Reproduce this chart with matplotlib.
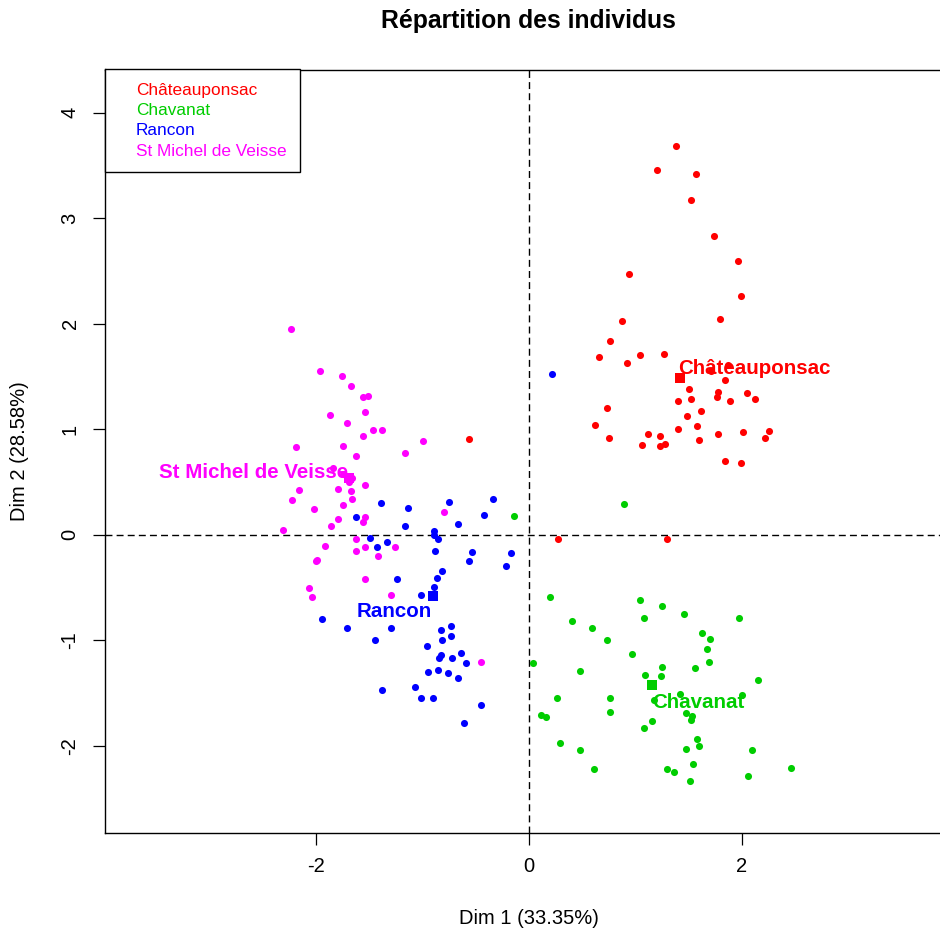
import numpy as np
import matplotlib
matplotlib.use("Agg")
import matplotlib.pyplot as plt
from matplotlib.lines import Line2D

plt.rcParams['font.family'] = ['Liberation Sans', 'DejaVu Sans']
plt.rcParams['axes.unicode_minus'] = False

groups = ["Châteauponsac", "Chavanat", "Rancon", "St Michel de Veisse"]
colors = ["#FF0000", "#00CD00", "#0000FF", "#FF00FF"]

# individuals, Dim 1 / Dim 2
chat_x = [1.386, 1.201, 1.571, 1.521, 1.743, 1.963, 0.944, 1.997, 0.872, 1.800,
          0.759, 0.661, 1.044, 1.273, 0.919, 1.712, 1.875, 1.841, 1.508, 1.778,
          1.766, 2.048, 2.123, 1.399, 1.521, 1.888, 0.737, 1.618, 1.484, 0.618,
          1.399, 1.583, 2.255, 2.013, 1.778, 1.117, 1.230, 0.750, 1.596, 2.217,
          1.066, 1.230, 1.277, 1.841, 1.997, -0.562, 0.273, 1.301]
chat_y = [3.685, 3.452, 3.417, 3.171, 2.827, 2.595, 2.472, 2.264, 2.030, 2.043,
          1.834, 1.685, 1.699, 1.711, 1.626, 1.553, 1.607, 1.467, 1.382, 1.357,
          1.306, 1.344, 1.284, 1.272, 1.284, 1.272, 1.199, 1.173, 1.123, 1.038,
          1.003, 1.026, 0.988, 0.978, 0.953, 0.953, 0.940, 0.915, 0.902, 0.915,
          0.855, 0.839, 0.864, 0.697, 0.684, 0.905, -0.043, -0.043]

chav_x = [-0.144, 0.897, 0.198, 1.044, 1.251, 1.079, 1.458, 1.973, 0.405, 0.590,
          0.737, 1.627, 1.703, 1.677, 0.969, 1.691, 0.038, 0.480, 1.251, 1.091,
          1.239, 1.559, 2.154, 0.261, 0.762, 1.421, 1.179, 2.001, 0.762, 0.110,
          0.163, 1.474, 1.536, 1.521, 1.154, 1.079, 1.580, 1.596, 0.294, 0.477,
          1.474, 2.098, 0.614, 1.301, 1.361, 1.546, 2.462, 2.057, 1.517]
chav_y = [0.182, 0.289, -0.592, -0.618, -0.678, -0.789, -0.754, -0.789, -0.813, -0.886,
          -0.997, -0.934, -0.984, -1.082, -1.133, -1.206, -1.218, -1.291, -1.253, -1.329,
          -1.341, -1.265, -1.376, -1.547, -1.547, -1.512, -1.562, -1.521, -1.682, -1.704,
          -1.730, -1.685, -1.718, -1.755, -1.768, -1.831, -1.938, -2.005, -1.976, -2.036,
          -2.027, -2.036, -2.223, -2.220, -2.248, -2.175, -2.210, -2.282, -2.334]

ranc_x = [0.219, -1.392, -0.755, -0.339, -1.135, -1.627, -0.426, -0.671, -1.164, -0.894,
          -0.894, -0.853, -1.493, -1.433, -1.333, -0.881, -0.536, -0.169, -0.562, -0.219,
          -0.818, -0.868, -1.239, -0.894, -1.013, -1.947, -1.712, -1.295, -1.446, -0.831,
          -0.734, -0.818, -0.734, -0.962, -0.637, -0.831, -0.844, -0.722, -0.595, -0.950,
          -0.853, -0.759, -0.671, -1.380, -1.075, -1.013, -0.903, -0.452, -0.609]
ranc_y = [1.528, 0.301, 0.315, 0.339, 0.254, 0.166, 0.191, 0.106, 0.081, 0.036,
          -0.005, -0.043, -0.030, -0.116, -0.064, -0.150, -0.163, -0.175, -0.246, -0.299,
          -0.346, -0.409, -0.422, -0.495, -0.567, -0.801, -0.886, -0.886, -0.997, -0.899,
          -0.864, -0.997, -0.962, -1.057, -1.120, -1.142, -1.168, -1.168, -1.218, -1.303,
          -1.282, -1.313, -1.354, -1.474, -1.439, -1.550, -1.550, -1.609, -1.780]

stmi_x = [-2.465, -2.239, -1.969, -1.762, -1.677, -1.564, -1.517, -1.872, -1.540, -1.712,
          -1.468, -1.383, -1.564, -2.189, -1.750, -0.994, -1.164, -1.627, -1.847, -1.747,
          -1.709, -1.665, -1.690, -1.540, -2.167, -1.800, -1.677, -2.227, -1.662, -1.750,
          -2.020, -0.797, -1.797, -1.540, -1.564, -1.863, -2.311, -1.627, -1.919, -1.540,
          -1.261, -1.627, -1.421, -2.007, -1.992, -1.540, -2.067, -2.044, -1.298, -0.452]
stmi_y = [3.768, 1.945, 1.553, 1.502, 1.405, 1.306, 1.319, 1.136, 1.161, 1.063,
          0.991, 0.991, 0.940, 0.829, 0.842, 0.893, 0.779, 0.744, 0.637, 0.580,
          0.538, 0.538, 0.500, 0.476, 0.425, 0.438, 0.412, 0.327, 0.339, 0.280,
          0.242, 0.216, 0.154, 0.169, 0.118, 0.081, 0.045, -0.040, -0.102, -0.112,
          -0.112, -0.150, -0.201, -0.248, -0.235, -0.422, -0.507, -0.592, -0.567, -1.206]

# group barycentres
cent_x = [1.420, 1.154, -0.900, -1.693]
cent_y = [1.481, -1.427, -0.576, 0.536]
# label anchors (left, baseline)
lab_x = [1.402, 1.154, -1.621, -3.481]
lab_y = [1.521, -1.645, -0.779, 0.536]

xs = [chat_x, chav_x, ranc_x, stmi_x]
ys = [chat_y, chav_y, ranc_y, stmi_y]

fig = plt.figure(figsize=(9.4, 9.38), dpi=100)
W, H = 940, 938
ax = fig.add_axes([105.4 / W, (H - 833) / H, 847.2 / W, 763.5 / H])

for i in range(4):
    ax.scatter(xs[i], ys[i], s=26, color=colors[i], linewidths=0, zorder=3)
for i in range(4):
    ax.scatter(cent_x[i], cent_y[i], s=55, marker='s', color=colors[i], linewidths=0, zorder=4)
    ax.text(lab_x[i], lab_y[i], groups[i], color=colors[i], fontsize=14.8,
            fontweight='bold', ha='left', va='baseline', zorder=5)

ax.axhline(0, color='black', lw=1.0, dashes=(5, 3), zorder=1)
ax.axvline(0, color='black', lw=1.0, dashes=(5, 3), zorder=1)

ax.set_xlim(-3.985, 3.985)
ax.set_ylim(-2.825, 4.408)
ax.set_xticks([-2, 0, 2])
ax.set_yticks([-2, -1, 0, 1, 2, 3, 4])
ax.tick_params(length=8.6, width=0.9, labelsize=14.5, pad=9)
ax.tick_params(axis='y', labelrotation=90, pad=10)
for lab in ax.get_yticklabels():
    lab.set_va('center')
for sp in ax.spines.values():
    sp.set_linewidth(1.0)

ax.set_xlabel("Dim 1 (33.35%)", fontsize=14.5)
ax.set_ylabel("Dim 2 (28.58%)", fontsize=14.5)
ax.xaxis.set_label_coords(0.5, (833 - 918) / 763.5)
ax.xaxis.label.set_va('center')
ax.yaxis.set_label_coords((20 - 105.4) / 847.2, 0.5)
ax.yaxis.label.set_va('center')

fig.text(528.5 / W, 1 - 21 / H, "Répartition des individus", fontsize=17.8,
         fontweight='bold', ha='center', va='center')

handles = [Line2D([], [], ls='none') for g in groups]
leg = ax.legend(handles, groups, loc='upper left', bbox_to_anchor=(0, 1),
                borderaxespad=0, fontsize=12.4, labelcolor=colors,
                handlelength=0.49, handletextpad=0.5, borderpad=0.78,
                labelspacing=0.3, fancybox=False, framealpha=1,
                edgecolor='black')
leg.get_frame().set_linewidth(1.0)

fig.savefig("out.png", dpi=100)
